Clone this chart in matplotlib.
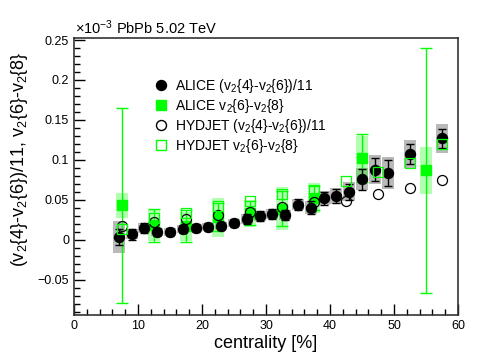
import matplotlib
matplotlib.use("Agg")
import numpy as np
import matplotlib.pyplot as plt
from matplotlib.ticker import MultipleLocator
from matplotlib.lines import Line2D

plt.rcParams['font.family'] = ['Liberation Sans', 'DejaVu Sans']
plt.rcParams['mathtext.fontset'] = 'custom'
plt.rcParams['mathtext.rm'] = 'Liberation Sans'
plt.rcParams['mathtext.it'] = 'Liberation Sans:italic'

# ALICE (v2{4}-v2{6})/11
alice46_x = [7, 9, 11, 13, 15, 17, 19, 21, 23, 25, 27, 29, 31, 33, 35, 37, 39, 41, 43, 45, 47, 49, 52.5, 57.5]
alice46_y = [0.003, 0.0072, 0.015, 0.0104, 0.0104, 0.013, 0.0146, 0.016, 0.0175, 0.021, 0.026, 0.030,
             0.032, 0.031, 0.044, 0.040, 0.052, 0.055, 0.060, 0.076, 0.088, 0.084, 0.1075, 0.127]
alice46_stat = [0.010, 0.007, 0.006, 0.005, 0.005, 0.005, 0.005, 0.005, 0.005, 0.005, 0.006, 0.006,
                0.006, 0.006, 0.007, 0.008, 0.008, 0.009, 0.010, 0.013, 0.014, 0.016, 0.013, 0.012]
alice46_sys = [0.020, 0.006, 0.006, 0.005, 0.005, 0.005, 0.005, 0.005, 0.005, 0.005, 0.006, 0.006,
               0.006, 0.006, 0.007, 0.008, 0.009, 0.010, 0.012, 0.014, 0.018, 0.020, 0.017, 0.018]

# ALICE v2{6}-v2{8}
alice68_x = [7.5, 12.5, 17.5, 22.5, 27.5, 32.5, 37.5, 45, 55]
alice68_y = [0.043, 0.018, 0.017, 0.028, 0.033, 0.039, 0.052, 0.103, 0.087]
alice68_stat = [0.1225, 0.021, 0.02, 0.0175, 0.015, 0.022, 0.015, 0.03, 0.153]
alice68_sys = [0.016, 0.019, 0.018, 0.025, 0.017, 0.027, 0.019, 0.027, 0.029]

# HYDJET (v2{4}-v2{6})/11
hyd46_x = [7.5, 12.5, 17.5, 22.5, 27.5, 32.5, 37.5, 42.5, 47.5, 52.5, 57.5]
hyd46_y = [0.017, 0.022, 0.026, 0.031, 0.035, 0.041, 0.047, 0.049, 0.0575, 0.065, 0.075]

# HYDJET v2{6}-v2{8}
hyd68_x = [7.5, 12.5, 17.5, 22.5, 27.5, 32.5, 37.5, 42.5, 47.5, 52.5, 57.5]
hyd68_y = [0.013, 0.027, 0.033, 0.042, 0.049, 0.0575, 0.063, 0.074, 0.085, 0.096, 0.12]

fig = plt.figure(figsize=(4.98, 3.53), dpi=100)
ax = fig.add_axes([0.1486, 0.1076, 0.7711, 0.7847])

# systematic boxes
ax.bar(alice46_x, 2 * np.array(alice46_sys), width=1.9,
       bottom=np.array(alice46_y) - np.array(alice46_sys),
       color='grey', alpha=0.55, linewidth=0, zorder=1)
ax.bar(alice68_x, 2 * np.array(alice68_sys), width=1.9,
       bottom=np.array(alice68_y) - np.array(alice68_sys),
       color='#00ff00', alpha=0.3, linewidth=0, zorder=1)

# statistical errors + markers
ax.errorbar(alice46_x, alice46_y, yerr=alice46_stat, fmt='o', color='black',
            ms=7.2, capsize=3.2, elinewidth=1.0, capthick=1.0, zorder=4)
ax.errorbar(alice68_x, alice68_y, yerr=alice68_stat, fmt='s', color='#00ff00',
            ms=7.0, capsize=4, elinewidth=1.0, capthick=1.0, zorder=3)
ax.plot(hyd46_x, hyd46_y, 'o', mfc='none', mec='black', ms=7.2, mew=0.9, zorder=5)
ax.plot(hyd68_x, hyd68_y, 's', mfc='none', mec='#00ff00', ms=7.5, mew=0.9, zorder=5)

ax.set_xlim(0, 60)
ax.set_ylim(-0.094, 0.2525)
ax.xaxis.set_major_locator(MultipleLocator(10))
ax.xaxis.set_minor_locator(MultipleLocator(2))
ax.yaxis.set_major_locator(MultipleLocator(0.05))
ax.yaxis.set_minor_locator(MultipleLocator(0.01))
ax.tick_params(which='both', direction='in', top=False, right=False, labelsize=9, colors='black')
ax.tick_params(which='major', length=8, width=1)
ax.tick_params(which='minor', length=4, width=1)
ax.set_yticks([-0.05, 0, 0.05, 0.1, 0.15, 0.2, 0.25])
ax.set_yticklabels(['\u22120.05', '0', '0.05', '0.1', '0.15', '0.2', '0.25'])
for s in ax.spines.values():
    s.set_linewidth(1.2)
    s.set_color('#333333')

ax.set_xlabel('centrality [%]', fontsize=13, labelpad=2)
fig.text(0.04, 0.55, r'(v$_{2}${4}-v$_{2}${6})/11, v$_{2}${6}-v$_{2}${8}',
         rotation=90, fontsize=13, ha='center', va='center')
fig.text(0.15, 0.895, r'$\times$10$^{-3}$ PbPb 5.02 TeV', fontsize=10.5, ha='left', va='bottom')

handles = [
    Line2D([], [], marker='o', ls='none', color='black', ms=7.2),
    Line2D([], [], marker='s', ls='none', color='#00ff00', ms=7.0),
    Line2D([], [], marker='o', ls='none', mfc='none', mec='black', ms=7.2),
    Line2D([], [], marker='s', ls='none', mfc='none', mec='#00ff00', ms=7.5),
]
labels = [r'ALICE (v$_{2}${4}-v$_{2}${6})/11', r'ALICE v$_{2}${6}-v$_{2}${8}',
          r'HYDJET (v$_{2}${4}-v$_{2}${6})/11', r'HYDJET v$_{2}${6}-v$_{2}${8}']
ax.legend(handles, labels, loc='upper left', bbox_to_anchor=(0.19, 0.885), frameon=False,
          fontsize=10, handlelength=1.0, handletextpad=0.5, labelspacing=0.15, borderpad=0)

fig.savefig('out.png', dpi=100)
